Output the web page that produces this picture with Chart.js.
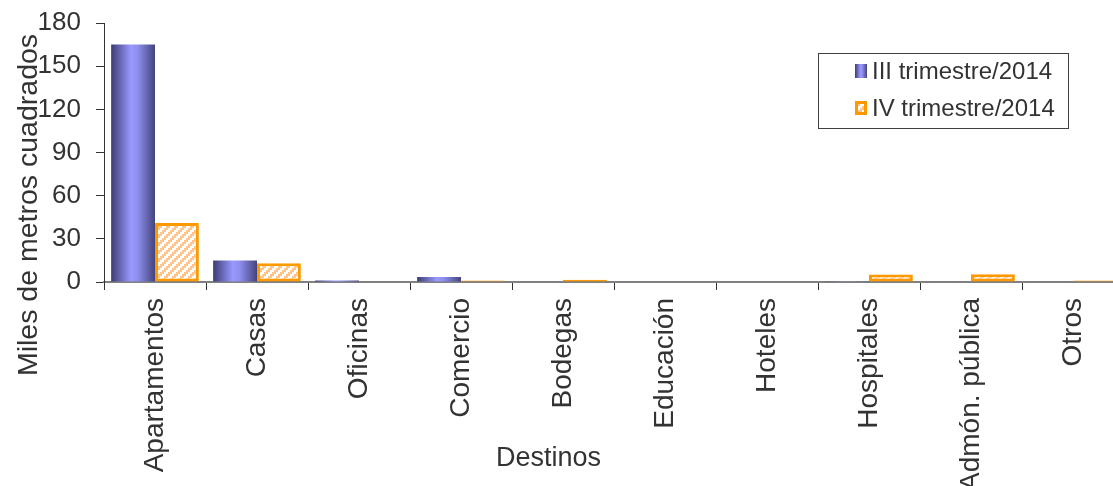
<!DOCTYPE html>
<html><head><meta charset="utf-8">
<script src="https://cdn.jsdelivr.net/npm/chart.js@4"></script>
<style>html,body{margin:0;padding:0;background:#fff;overflow:hidden}#wrap{width:1130px;height:486px;position:relative}</style>
</head><body><div id="wrap"><canvas id="c" width="1130" height="486"></canvas></div>
<script>
const categories = ['Apartamentos','Casas','Oficinas','Comercio','Bodegas','Educación','Hoteles','Hospitales','Admón. pública','Otros'];
const seriesNames = ['III trimestre/2014','IV trimestre/2014'];
const trimIII = [165, 15, 1, 3.5, 0.3, 0, 0, 0.6, 0, 0];
const trimIV = [41, 13, 0, 1.1, 1.6, 0, 0, 5.2, 5.4, 1];
const yTickValues = [0, 30, 60, 90, 120, 150, 180];
const yTitle = 'Miles de metros cuadrados';
const xTitle = 'Destinos';

const FONT = '"Liberation Sans", Arial, sans-serif';
const TXT = '#333333';

// hatch pattern for the IV series
const tile = document.createElement('canvas');
tile.width = 8; tile.height = 8;
(function(){
  const t = tile.getContext('2d');
  t.fillStyle = '#ffffff'; t.fillRect(0,0,8,8);
  t.fillStyle = '#FFC58C';
  for (let x = 0; x < 8; x += 2) for (let y = 0; y < 8; y += 2) {
    if (((x/2) + (y/2)) % 4 < 2) t.fillRect(x, y, 2, 2);
  }
})();
const canvasEl = document.getElementById('c');
const hatch = canvasEl.getContext('2d').createPattern(tile, 'repeat');

function blueGrad(c, x0, x1) {
  const g = c.createLinearGradient(x0, 0, x1, 0);
  g.addColorStop(0, '#3c3c74');
  g.addColorStop(0.45, '#9999ff');
  g.addColorStop(0.6, '#8f8ff0');
  g.addColorStop(1, '#44447c');
  return g;
}
function blueFill(ctx) {
  const chart = ctx.chart; const xs = chart.scales && chart.scales.x;
  if (!chart.chartArea || !xs || ctx.dataIndex === undefined) return '#8080e0';
  const cx = xs.getPixelForValue(ctx.dataIndex);
  const cw = (xs.right - xs.left) / categories.length;
  const bw = cw * 0.86 / 2;
  return blueGrad(chart.ctx, cx - bw, cx);
}

const deco = {
  id: 'deco',
  afterDraw(chart) {
    const c = chart.ctx;
    c.save();
    c.fillStyle = TXT;
    c.font = '28.5px ' + FONT;
    c.textAlign = 'center'; c.textBaseline = 'alphabetic';
    c.translate(37, 205); c.rotate(-Math.PI / 2);
    c.fillText(yTitle, 0, 0);
    c.restore();

    c.save();
    c.fillStyle = TXT;
    c.font = '27px ' + FONT;
    c.textAlign = 'center'; c.textBaseline = 'alphabetic';
    c.fillText(xTitle, 548.5, 466);
    c.restore();

    // legend
    c.save();
    c.strokeStyle = '#404040'; c.lineWidth = 1;
    c.strokeRect(818.5, 53.5, 250, 75);
    c.fillStyle = blueGrad(c, 855, 867);
    c.fillRect(855, 64, 12, 14);
    c.fillStyle = hatch;
    c.fillRect(855, 101, 12, 14);
    c.strokeStyle = '#FF9900'; c.lineWidth = 3;
    c.strokeRect(856.5, 102.5, 9, 11);
    c.fillStyle = TXT;
    c.font = '24px ' + FONT;
    c.textAlign = 'left'; c.textBaseline = 'middle';
    c.fillText(chart.data.datasets[0].label, 872, 72);
    c.fillText(chart.data.datasets[1].label, 872, 109);
    c.restore();
  }
};

new Chart(canvasEl, {
  type: 'bar',
  data: {
    labels: categories,
    datasets: [
      { label: seriesNames[0], data: trimIII, backgroundColor: blueFill, borderWidth: 0,
        categoryPercentage: 0.86, barPercentage: 1 },
      { label: seriesNames[1], data: trimIV, backgroundColor: hatch, borderColor: '#FF9900', borderWidth: 3,
        borderSkipped: false, categoryPercentage: 0.86, barPercentage: 1 }
    ]
  },
  options: {
    responsive: false,
    animation: false,
    events: [],
    layout: { padding: { left: 0, right: 6, top: 23, bottom: 0 } },
    plugins: { legend: { display: false }, tooltip: { enabled: false }, title: { display: false } },
    scales: {
      x: {
        grid: { drawOnChartArea: false, drawTicks: true, tickLength: 8, color: '#333', offset: true },
        border: { display: true, color: '#808080', width: 2 },
        ticks: { color: TXT, font: { size: 28, family: FONT }, minRotation: 90, maxRotation: 90, autoSkip: false, padding: 8 },
        afterFit(s) { s.height = 204; s.paddingLeft = 0; s.paddingRight = 0; }
      },
      y: {
        min: 0, max: 180,
        afterBuildTicks(s) { s.ticks = yTickValues.map(v => ({ value: v })); },
        grid: { drawOnChartArea: false, drawTicks: true, tickLength: 8, color: '#333' },
        border: { display: true, color: '#333', width: 1 },
        ticks: { color: TXT, font: { size: 26, family: FONT }, padding: 15 },
        afterFit(s) { s.width = 104; s.paddingTop = 0; s.paddingBottom = 0; }
      }
    }
  },
  plugins: [deco]
});
</script></body></html>
